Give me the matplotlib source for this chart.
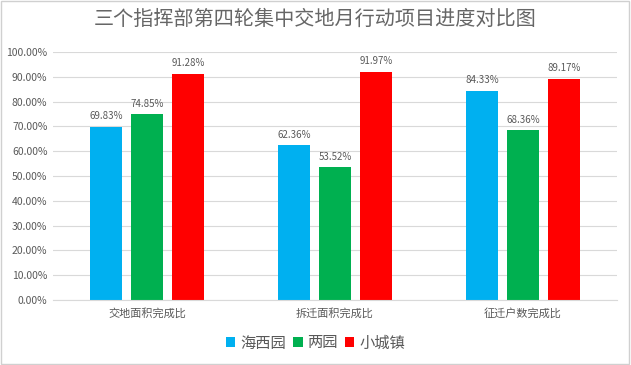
import numpy as np
import matplotlib
matplotlib.use('agg')
from matplotlib import pyplot as plt
from matplotlib.ticker import PercentFormatter
from matplotlib.patches import Rectangle

plt.rcParams['font.family'] = ['Noto Sans CJK SC', 'DejaVu Sans']

categories = ['交地面积完成比', '拆迁面积完成比', '征迁户数完成比']
series = ['海西园', '两园', '小城镇']
haixi = [69.83, 62.36, 84.33]
liangyuan = [74.85, 53.52, 68.36]
xiaocheng = [91.28, 91.97, 89.17]
colors = ['#00B0F0', '#00B050', '#FF0000']

TXT = '#595959'

fig = plt.figure(figsize=(6.31, 3.65), dpi=100)
fig.patches.append(Rectangle((0.002, 0.003), 0.995, 0.994, transform=fig.transFigure,
                             fill=False, edgecolor='#d0d0d0', linewidth=1))
ax = fig.add_axes([53 / 631, 65 / 365, 564 / 631, 248 / 365])

x = np.arange(len(categories))
w = 0.175
offs = 0.218
for i, (vals, name) in enumerate(zip([haixi, liangyuan, xiaocheng], series)):
    pos = x + (i - 1) * offs
    bars = ax.bar(pos, vals, width=w, color=colors[i], label=name, zorder=2)
    for b, v in zip(bars, vals):
        ax.text(b.get_x() + b.get_width() / 2, v + 2.2, '%.2f%%' % v,
                ha='center', va='bottom', fontsize=7, color=TXT)

ax.set_xlim(-0.5, 2.5)
ax.set_ylim(0, 100)
ax.set_yticks(np.arange(0, 101, 10))
ax.yaxis.set_major_formatter(PercentFormatter(decimals=2))
ax.grid(axis='y', color='#d9d9d9', linewidth=0.8, zorder=0)
ax.set_xticks(x)
ax.set_xticklabels(categories, fontsize=8, color=TXT)
ax.tick_params(axis='y', labelsize=7.5, colors=TXT, length=0, pad=4)
ax.tick_params(axis='x', length=0, pad=6)
for s in ['top', 'right', 'left']:
    ax.spines[s].set_visible(False)
ax.spines['bottom'].set_color('#d9d9d9')

fig.suptitle('三个指挥部第四轮集中交地月行动项目进度对比图', x=0.5, y=0.975,
             fontsize=14.5, color='#666666', fontweight='light')
fig.legend(loc='center', bbox_to_anchor=(0.5, 1 - 343 / 365), ncol=3, frameon=False,
           fontsize=11, handlelength=0.6, handleheight=0.6, handletextpad=0.3,
           columnspacing=0.5, labelcolor=TXT)

fig.savefig('out.png', dpi=100)
